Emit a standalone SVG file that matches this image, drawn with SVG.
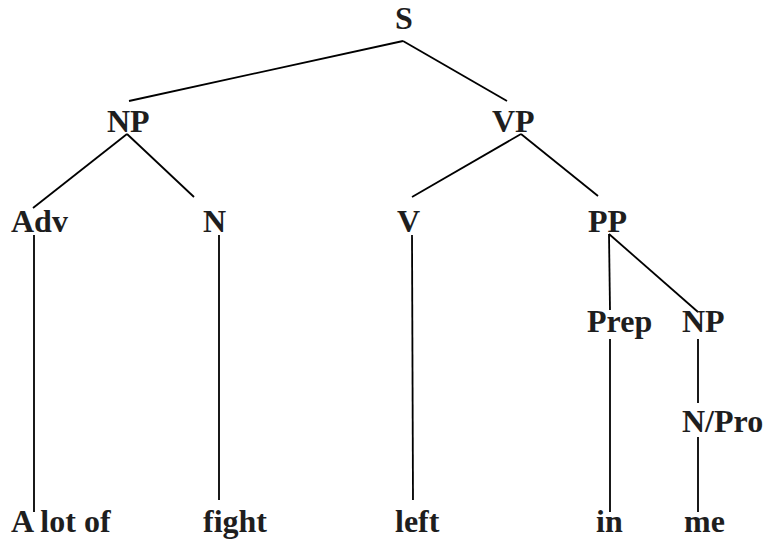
<svg xmlns="http://www.w3.org/2000/svg" width="767" height="545" viewBox="0 0 767 545">
<style>
text{font-family:"Liberation Serif","Times New Roman",serif;font-weight:bold;font-size:32px;fill:#1e1e1e}
.e line{stroke:#000;stroke-width:1.8;fill:none}
</style>
<rect width="767" height="545" fill="#fff"/>
<g class="e" id="edges">
<line x1="403" y1="41" x2="129" y2="101"/>
<line x1="403" y1="41" x2="507" y2="101"/>
<line x1="127" y1="134" x2="33" y2="208"/>
<line x1="127" y1="134" x2="194" y2="197"/>
<line x1="521" y1="134" x2="412" y2="197"/>
<line x1="521" y1="134" x2="598" y2="196"/>
<line x1="34" y1="235" x2="34" y2="512"/>
<line x1="219" y1="235" x2="219" y2="500"/>
<line x1="412" y1="235" x2="413" y2="500"/>
<line x1="609" y1="234" x2="610" y2="310"/>
<line x1="609" y1="234" x2="698" y2="312"/>
<line x1="610" y1="339" x2="610" y2="512"/>
<line x1="698" y1="339" x2="698" y2="403"/>
<line x1="698" y1="437" x2="698" y2="512"/>
</g>
<g id="n-S"><text x="395" y="29">S</text></g>
<g id="n-NP"><text x="107" y="132">NP</text></g>
<g id="n-VP"><text x="492" y="132">VP</text></g>
<g id="n-Adv"><text x="11" y="232">Adv</text></g>
<g id="n-N"><text x="203" y="232">N</text></g>
<g id="n-V"><text x="397" y="232">V</text></g>
<g id="n-PP"><text x="588" y="232">PP</text></g>
<g id="n-Prep"><text x="587" y="332">Prep</text></g>
<g id="n-NP2"><text x="682" y="332">NP</text></g>
<g id="n-NPro"><text x="682" y="432">N/Pro</text></g>
<g id="w-alotof"><text x="11" y="532">A lot of</text></g>
<g id="w-fight"><text x="203" y="532">fight</text></g>
<g id="w-left"><text x="395" y="532">left</text></g>
<g id="w-in"><text x="596" y="532">in</text></g>
<g id="w-me"><text x="684" y="532">me</text></g>
</svg>
